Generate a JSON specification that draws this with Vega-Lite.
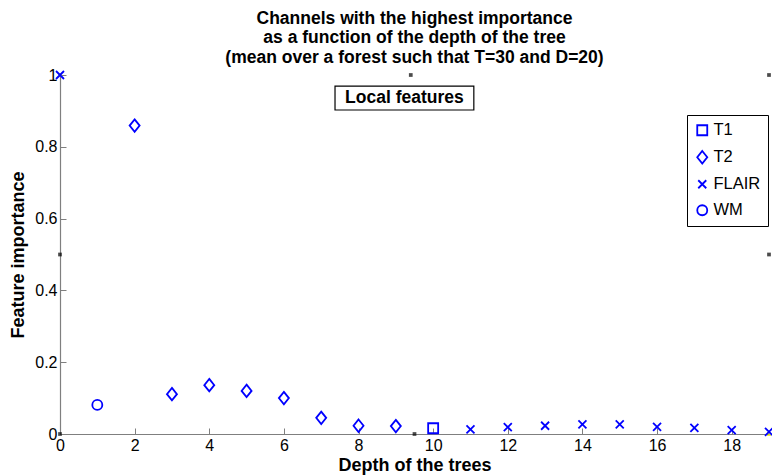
{
  "$schema": "https://vega.github.io/schema/vega-lite/v6.json",
  "width": 709,
  "height": 359,
  "autosize": {"type": "none"},
  "padding": {"left": 60, "top": 75, "right": 3, "bottom": 42},
  "background": "white",
  "config": {
    "view": {"stroke": null},
    "font": "Liberation Sans",
    "axis": {"grid": false, "domainColor": "#7f7f7f", "tickColor": "#7f7f7f", "labelColor": "black", "titleColor": "black", "labelFont": "Liberation Sans", "titleFont": "Liberation Sans", "labelFontSize": 16, "titleFontSize": 18, "titleFontWeight": "bold", "tickSize": -6, "domainWidth": 1.2, "labelFlush": false, "labelOverlap": false}
  },
  "title": {
    "text": ["Channels with the highest importance", "as a function of the depth of the tree", "(mean over a forest such that T=30 and D=20)"],
    "fontSize": 17.5,
    "fontWeight": "bold",
    "lineHeight": 19.5,
    "offset": 1,
    "anchor": "middle",
    "color": "black",
    "font": "Liberation Sans"
  },
  "datasets": {
    "pts": [
      {"depth": 0, "channel": "FLAIR", "importance": 1.0},
      {"depth": 1, "channel": "WM", "importance": 0.081},
      {"depth": 2, "channel": "T2", "importance": 0.859},
      {"depth": 3, "channel": "T2", "importance": 0.111},
      {"depth": 4, "channel": "T2", "importance": 0.136},
      {"depth": 5, "channel": "T2", "importance": 0.120},
      {"depth": 6, "channel": "T2", "importance": 0.100},
      {"depth": 7, "channel": "T2", "importance": 0.045},
      {"depth": 8, "channel": "T2", "importance": 0.023},
      {"depth": 9, "channel": "T2", "importance": 0.022},
      {"depth": 10, "channel": "T1", "importance": 0.016},
      {"depth": 11, "channel": "FLAIR", "importance": 0.013},
      {"depth": 12, "channel": "FLAIR", "importance": 0.019},
      {"depth": 13, "channel": "FLAIR", "importance": 0.023},
      {"depth": 14, "channel": "FLAIR", "importance": 0.027},
      {"depth": 15, "channel": "FLAIR", "importance": 0.027},
      {"depth": 16, "channel": "FLAIR", "importance": 0.020},
      {"depth": 17, "channel": "FLAIR", "importance": 0.017},
      {"depth": 18, "channel": "FLAIR", "importance": 0.011},
      {"depth": 19, "channel": "FLAIR", "importance": 0.006}
    ],
    "black": [
      {"depth": 9.4, "importance": 1.0},
      {"depth": 19, "importance": 1.0},
      {"depth": 19, "importance": 0.5},
      {"depth": 0, "importance": 0.5},
      {"depth": 9.5, "importance": 0.0},
      {"depth": 0, "importance": 0.0}
    ],
    "yellow": [
      {"depth": 0, "importance": 1.0},
      {"depth": 19, "importance": 0.0}
    ],
    "box": [
      {"x1": 7.37, "x2": 11.09, "y1": 0.9025, "y2": 0.969, "xc": 9.23, "yc": 0.936, "label": "Local features"}
    ]
  },
  "layer": [
    {
      "data": {"name": "black"},
      "mark": {"type": "point", "shape": "square", "filled": true, "color": "black", "size": 14, "clip": false},
      "encoding": {
        "x": {"field": "depth", "type": "quantitative", "scale": {"domain": [0, 19], "nice": false, "zero": false},
              "axis": {"values": [0, 2, 4, 6, 8, 10, 12, 14, 16, 18], "title": "Depth of the trees", "labelPadding": 9, "titlePadding": 3, "format": "d"}},
        "y": {"field": "importance", "type": "quantitative", "scale": {"domain": [0, 1], "nice": false},
              "axis": {"values": [0, 0.2, 0.4, 0.6, 0.8, 1], "title": "Feature importance", "format": "~g", "labelPadding": 9, "titlePadding": 7}}
      }
    },
    {
      "data": {"name": "yellow"},
      "mark": {"type": "point", "shape": "square", "filled": true, "color": "#e6e600", "size": 16, "clip": false},
      "encoding": {
        "x": {"field": "depth", "type": "quantitative"},
        "y": {"field": "importance", "type": "quantitative"}
      }
    },
    {
      "data": {"name": "box"},
      "mark": {"type": "rect", "fill": "white", "stroke": "black", "strokeWidth": 1.2},
      "encoding": {
        "x": {"field": "x1", "type": "quantitative"},
        "x2": {"field": "x2"},
        "y": {"field": "y1", "type": "quantitative"},
        "y2": {"field": "y2"}
      }
    },
    {
      "data": {"name": "box"},
      "mark": {"type": "text", "fontSize": 17.5, "fontWeight": "bold", "color": "black", "font": "Liberation Sans"},
      "encoding": {
        "x": {"field": "xc", "type": "quantitative"},
        "y": {"field": "yc", "type": "quantitative"},
        "text": {"field": "label"}
      }
    },
    {
      "data": {"name": "pts"},
      "mark": {"type": "point", "filled": false, "color": "#0000ff", "strokeWidth": 1.8, "size": 100, "opacity": 1, "clip": false},
      "encoding": {
        "x": {"field": "depth", "type": "quantitative"},
        "y": {"field": "importance", "type": "quantitative"},
        "shape": {
          "field": "channel", "type": "nominal",
          "scale": {"domain": ["T1", "T2", "FLAIR", "WM"], "range": ["square", "M0,-1.25L1,0L0,1.25L-1,0Z", "M-0.8,-0.8L0.8,0.8M-0.8,0.8L0.8,-0.8", "circle"]},
          "legend": {"title": null, "orient": "none", "legendX": 627, "legendY": 40, "strokeColor": "black", "fillColor": "white", "padding": 7, "labelFontSize": 16.5, "labelFont": "Liberation Sans", "labelColor": "black", "symbolStrokeColor": "#0000ff", "symbolStrokeWidth": 1.8, "symbolSize": 100, "rowPadding": 8, "labelOffset": 3, "symbolType": "circle"}
        }
      }
    }
  ]
}
